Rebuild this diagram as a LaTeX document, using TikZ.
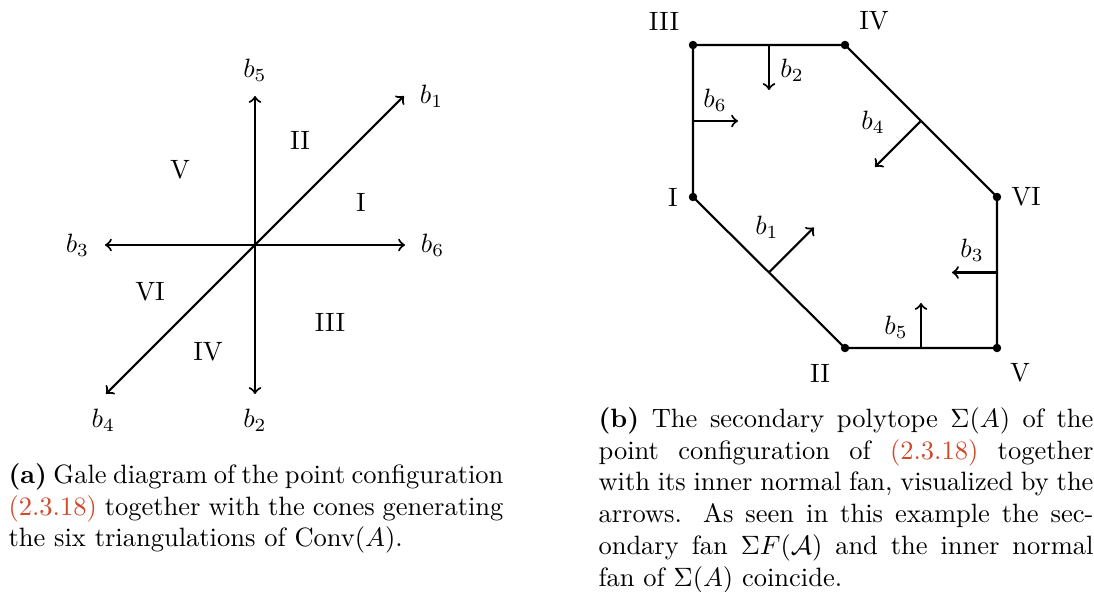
\documentclass[tikz,border=0pt]{standalone}
\usepackage{amsmath}
\usepackage{xcolor}
\usetikzlibrary{calc,positioning}
\definecolor{LinkRed}{HTML}{D2482A}

\tikzset{
  vec/.style={->,thick},
  edge/.style={thick},
  vdot/.style={circle,fill=black,inner sep=0pt,minimum size=3.2pt},
  capt/.style={anchor=north west,inner sep=0pt,text width=186.8pt,align=justify}
}

\begin{document}
\begin{tikzpicture}[x=0.3774pt,y=-0.3774pt]
\fill[white] (0,0) rectangle (1094,592);
\useasboundingbox (0,0) rectangle (1094,592);
% (a) Gale diagram
\coordinate (O) at (255,245);
\coordinate (t1) at (404,96);\coordinate (t2) at (255,394);
\coordinate (t3) at (105,245);\coordinate (t4) at (106,394);
\coordinate (t5) at (255,96);\coordinate (t6) at (405,245);
\foreach \i in {1,...,6} \draw[vec] (O) -- (t\i);
\node[right=2.5pt of t1] (l1) {$b_1$};
\node[below=2pt of t2] (l2) {$b_2$};
\node[left=2.5pt of t3] (l3) {$b_3$};
\node[below=2pt of t4,xshift=-1pt] (l4) {$b_4$};
\node[above=2pt of t5] (l5) {$b_5$};
\node[right=2.5pt of t6] (l6) {$b_6$};
\node (cI) at (361,202) {I};\node (cII) at (300,140) {II};
\node (cIII) at (330,322) {III};\node (cIV) at (208,352) {IV};
\node (cV) at (180,170) {V};\node (cVI) at (150,292) {VI};
% (b) secondary polytope
\coordinate (vIII) at (693,45);\coordinate (vIV) at (845,45);
\coordinate (vVI) at (997,197);\coordinate (vV) at (997,348);
\coordinate (vII) at (845,348);\coordinate (vI) at (693,197);
\draw[edge] (vIII) -- (vIV) -- (vVI) -- (vV) -- (vII) -- (vI) -- cycle;
\foreach \v in {I,II,III,IV,V,VI} \node[vdot] (d\v) at (v\v) {};
\node (lIII) at ($(vIII)+(-29,-24)$) {III};
\node (lIV) at ($(vIV)+(29,-24)$) {IV};
\node (lVI) at ($(vVI)+(29,0)$) {VI};
\node (lI) at ($(vI)+(-20,0)$) {I};
\node (lII) at ($(vII)+(-25,25)$) {II};
\node (lV) at ($(vV)+(23,25)$) {V};
% inner normals
\coordinate (m2) at ($(vIII)!0.5!(vIV)$);\coordinate (n2) at ($(m2)+(0,45)$);
\coordinate (m6) at ($(vIII)!0.5!(vI)$);\coordinate (n6) at ($(m6)+(45,0)$);
\coordinate (m4) at ($(vIV)!0.5!(vVI)$);\coordinate (n4) at ($(m4)+(-46,46)$);
\coordinate (m1) at ($(vI)!0.5!(vII)$);\coordinate (n1) at ($(m1)+(45,-45)$);
\coordinate (m3) at ($(vVI)!0.5!(vV)$);\coordinate (n3) at ($(m3)+(-45,0)$);
\coordinate (m5) at ($(vII)!0.5!(vV)$);\coordinate (n5) at ($(m5)+(0,-45)$);
\foreach \i in {1,...,6} \draw[vec] (m\i) -- (n\i);
\node (k2) at (792,70) {$b_2$};
\node (k6) at (715,100) {$b_6$};
\node (k4) at (873,122) {$b_4$};
\node (k1) at (767,227) {$b_1$};
\node (k3) at (972,250) {$b_3$};
\node (k5) at (896,327) {$b_5$};
% captions
\node[capt] (capA) at (8,463) {\textbf{(a)} Gale diagram of the point configuration \textcolor{LinkRed}{(2.3.18)} together with the cones generating the six triangulations of Conv$(A)$.};
\node[capt] (capB) at (598,407) {\textbf{(b)} The secondary polytope $\Sigma(A)$ of the point configuration of \textcolor{LinkRed}{(2.3.18)} together with its inner normal fan, visualized by the arrows. As seen in this example the secondary fan $\Sigma F(\mathcal{A})$ and the inner normal fan of $\Sigma(A)$ coincide.};
\end{tikzpicture}
\end{document}
